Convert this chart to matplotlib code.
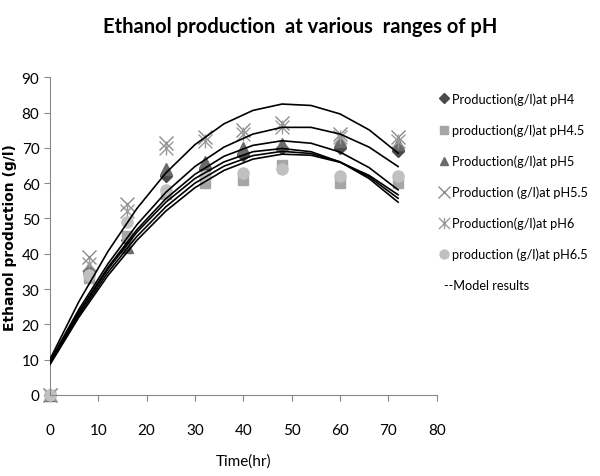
import matplotlib.pyplot as plt
from matplotlib.lines import Line2D
from matplotlib.path import Path

plt.rcParams['font.family'] = ['Lato', 'DejaVu Sans']

# Sampling times (hr) and measured ethanol (g/l)
time = [0, 8, 16, 24, 32, 40, 48, 60, 72]
ph4 = [0, 35, 44, 62, 64, 68, 70, 70, 69]
ph45 = [0, 33, 45, 57, 60, 61, 65, 60, 60]
ph5 = [0, 36, 42, 64, 66, 70, 71, 72, 71]
ph55 = [0, 39, 54, 71.5, 73, 75, 77, 74, 73]
ph6 = [0, 37, 52, 70, 72, 74, 76, 73, 72]
ph65 = [0, 34, 49, 58, 62, 63, 64, 62, 62]

# Model curves
model_time = [0, 6, 12, 18, 24, 30, 36, 42, 48, 54, 60, 66, 72]
model_1 = [10, 26.4, 40.6, 52.8, 62.9, 70.9, 76.8, 80.6, 82.4, 82.0, 79.6, 75.1, 68.5]
model_2 = [9.5, 24.2, 37.1, 48.2, 57.4, 64.7, 70.2, 73.9, 75.8, 75.8, 73.9, 70.2, 64.7]
model_3 = [9, 23.5, 36.1, 46.8, 55.6, 62.5, 67.6, 70.7, 72.0, 71.3, 68.8, 64.4, 58.1]
model_4 = [9, 23.2, 35.6, 46.1, 54.6, 61.3, 66.0, 68.9, 69.8, 68.9, 66.0, 61.3, 54.6]
model_5 = [8.8, 22.6, 34.7, 44.9, 53.3, 60.0, 64.8, 67.8, 69.0, 68.4, 66.0, 61.8, 55.7]
model_6 = [8.5, 22.0, 33.8, 43.8, 52.1, 58.7, 63.6, 66.8, 68.2, 67.9, 65.9, 62.2, 56.7]

# Excel-style "star" marker: an X with a vertical bar through it
star = Path([(-1, -1), (1, 1), (-1, 1), (1, -1), (0, -1), (0, 1)],
            [Path.MOVETO, Path.LINETO, Path.MOVETO, Path.LINETO, Path.MOVETO, Path.LINETO])

fig = plt.figure(figsize=(6, 4.77), dpi=100)
ax = fig.add_axes([0.083, 0.170, 0.645, 0.666])

for m in [model_1, model_2, model_3, model_4, model_5, model_6]:
    ax.plot(model_time, m, color='black', linewidth=1.2, zorder=3)

series = [
    (ph4, 'D', '#4a4a4a', 'Production(g/l)at pH4', 6),
    (ph45, 's', '#a6a6a6', 'production(g/l)at pH4.5', 7),
    (ph5, '^', '#6b6b6b', 'Production(g/l)at pH5', 8),
    (ph55, 'x', '#8c8c8c', 'Production (g/l)at pH5.5', 10),
    (ph6, star, '#9a9a9a', 'Production(g/l)at pH6', 10),
    (ph65, 'o', '#c0c0c0', 'production (g/l)at pH6.5', 8),
]
handles = []
for vals, mk, col, lab, ms in series:
    ax.plot(time, vals, linestyle='none', marker=mk, color=col, markersize=ms,
            markeredgewidth=1.0, clip_on=False, zorder=2)
    handles.append(Line2D([], [], linestyle='none', marker=mk, color=col,
                          markersize=ms * 0.8, markeredgewidth=1.0, label=lab))

ax.set_xlim(0, 80)
ax.set_ylim(0, 90)
ax.set_xticks(range(0, 81, 10))
ax.set_yticks(range(0, 91, 10))
for s in ['top', 'right']:
    ax.spines[s].set_visible(False)
for s in ['left', 'bottom']:
    ax.spines[s].set_color('#888888')
ax.tick_params(colors='#888888', labelcolor='black', labelsize=11, length=4)
ax.tick_params(axis='x', pad=16)

ax.set_xlabel('Time(hr)', fontsize=11, labelpad=12)
ax.set_ylabel('Ethanol production (g/l)', fontsize=10, fontweight='bold',
              family=['DejaVu Sans'], labelpad=3)

fig.suptitle('Ethanol production  at various  ranges of pH', x=0.5, y=0.965,
             fontsize=14.5, fontweight='bold')

fig.legend(handles=handles, loc='upper left', bbox_to_anchor=(0.725, 0.815),
           frameon=False, fontsize=9.2, handlelength=0.6, handletextpad=0.3,
           labelspacing=1.45, borderaxespad=0)
fig.text(0.74, 0.40, '--Model results', fontsize=9.2, va='center')

fig.savefig('out.png', dpi=100)
